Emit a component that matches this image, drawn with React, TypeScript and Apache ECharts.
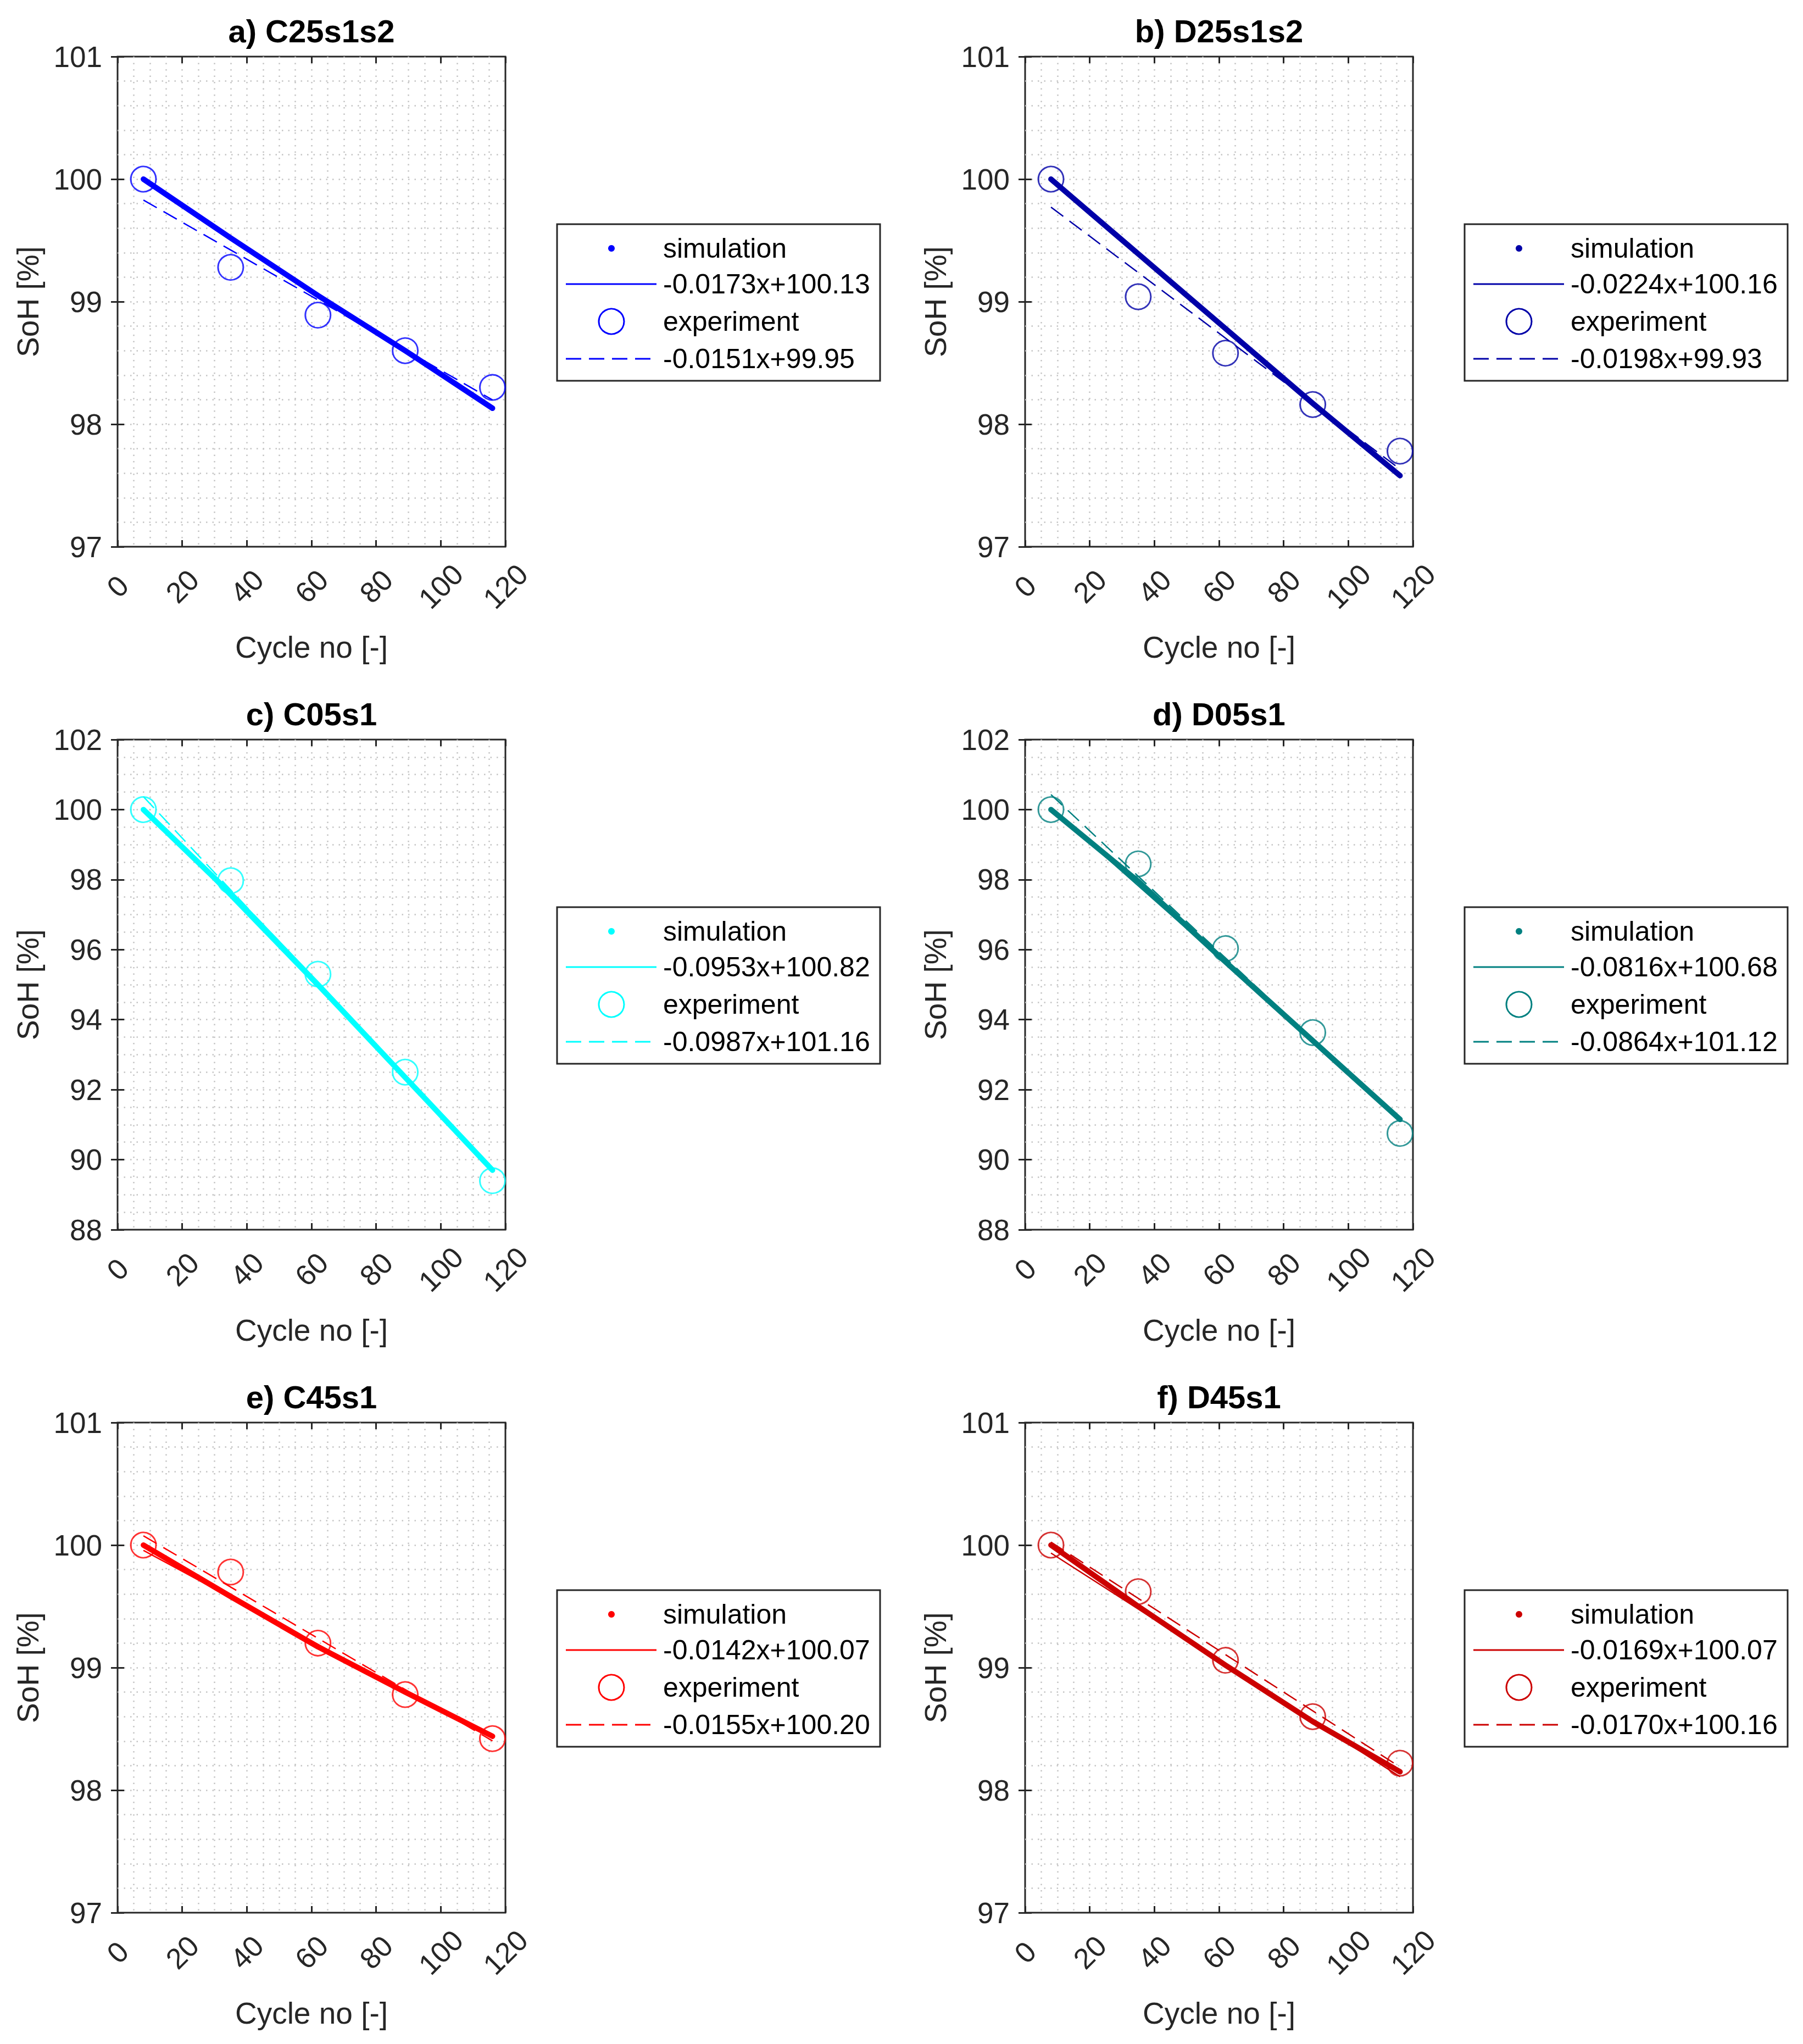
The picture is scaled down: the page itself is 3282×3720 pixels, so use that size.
import { useEffect, useRef } from 'react';
import * as echarts from 'echarts';

// cycle numbers of the checkpoints
const cycles = [8, 35, 62, 89, 116];

const panelTitles = ['a) C25s1s2', 'b) D25s1s2', 'c) C05s1', 'd) D05s1', 'e) C45s1', 'f) D45s1'];
const panelColors = ['#0000ff', '#0000a8', '#00ffff', '#008080', '#ff0000', '#cc0000'];

// simulated SoH [%]
const simA = [100, 99.52, 99.05, 98.6, 98.13];
const simB = [100, 99.39, 98.78, 98.17, 97.58];
const simC = [100, 97.6, 95.0, 92.35, 89.7];
const simD = [100, 97.95, 95.65, 93.4, 91.15];
const simE = [100, 99.58, 99.17, 98.8, 98.44];
const simF = [100, 99.5, 99.02, 98.56, 98.15];

// measured SoH [%]
const expA = [100, 99.28, 98.89, 98.6, 98.3];
const expB = [100, 99.04, 98.58, 98.16, 97.78];
const expC = [100, 97.97, 95.3, 92.5, 89.4];
const expD = [100, 98.45, 96.03, 93.63, 90.75];
const expE = [100, 99.78, 99.2, 98.78, 98.42];
const expF = [100, 99.62, 99.06, 98.6, 98.22];

// linear fits (as printed in the legends)
const simFitSlope = [-0.0173, -0.0224, -0.0953, -0.0816, -0.0142, -0.0169];
const simFitIntercept = [100.13, 100.16, 100.82, 100.68, 100.07, 100.07];
const expFitSlope = [-0.0151, -0.0198, -0.0987, -0.0864, -0.0155, -0.017];
const expFitIntercept = [99.95, 99.93, 101.16, 101.12, 100.2, 100.16];

// y axes
const yMin = [97, 97, 88, 88, 97, 97];
const yMax = [101, 101, 102, 102, 101, 101];
const yStep = [1, 1, 2, 2, 1, 1];
const yMinorSplit = [5, 5, 4, 4, 5, 5];

const simSeries = [simA, simB, simC, simD, simE, simF];
const expSeries = [expA, expB, expC, expD, expE, expF];

const FONT = '"Liberation Sans", Arial, Helvetica, sans-serif';
const AXIS_COLOR = '#262626';

const fitLabel = (s: number, b: number) => `${s.toFixed(4)}x+${b.toFixed(2)}`;
const fitLine = (s: number, b: number) => {
    const x0 = cycles[0];
    const x1 = cycles[cycles.length - 1];
    return [
        [x0, s * x0 + b],
        [x1, s * x1 + b],
    ];
};

function buildOption(): echarts.EChartsOption {
    const grids: any[] = [];
    const xAxes: any[] = [];
    const yAxes: any[] = [];
    const series: any[] = [];
    const graphics: any[] = [];

    const plotW = 706;
    const plotH = 892;

    const gridDots = { color: '#c4c4c4', width: 2.5, type: [2.5, 9] };
    const tick = { inside: true, length: 12, lineStyle: { color: AXIS_COLOR, width: 3 } };

    for (let p = 0; p < 6; p++) {
        const col = p % 2;
        const row = Math.floor(p / 2);
        const left = col ? 1866 : 214;
        const top = 103 + row * 1243;
        const color = panelColors[p];

        grids.push({
            left,
            top,
            width: plotW,
            height: plotH,
            show: true,
            backgroundColor: '#ffffff',
            borderColor: AXIS_COLOR,
            borderWidth: 3,
        });

        const xBase = {
            type: 'value',
            gridIndex: p,
            min: 0,
            max: 120,
            interval: 20,
            axisLine: { show: false },
            axisTick: tick,
        };
        xAxes.push({
            ...xBase,
            position: 'bottom',
            axisLabel: {
                rotate: 45,
                align: 'center',
                verticalAlign: 'middle',
                margin: 72,
                fontSize: 53,
                color: AXIS_COLOR,
                fontFamily: FONT,
                showMinLabel: true,
                showMaxLabel: true,
            },
            splitLine: { show: true, showMinLine: false, showMaxLine: false, lineStyle: gridDots },
            minorTick: { show: false, splitNumber: 4 },
            minorSplitLine: { show: true, lineStyle: gridDots },
        });
        xAxes.push({
            ...xBase,
            position: 'top',
            axisLabel: { show: false },
            splitLine: { show: false },
        });

        const yBase = {
            type: 'value',
            gridIndex: p,
            min: yMin[p],
            max: yMax[p],
            interval: yStep[p],
            axisLine: { show: false },
            axisTick: tick,
        };
        yAxes.push({
            ...yBase,
            position: 'left',
            axisLabel: {
                margin: 28,
                fontSize: 53,
                color: AXIS_COLOR,
                fontFamily: FONT,
                showMinLabel: true,
                showMaxLabel: true,
            },
            splitLine: { show: true, showMinLine: false, showMaxLine: false, lineStyle: gridDots },
            minorTick: { show: false, splitNumber: yMinorSplit[p] },
            minorSplitLine: { show: true, lineStyle: gridDots },
        });
        yAxes.push({
            ...yBase,
            position: 'right',
            axisLabel: { show: false },
            splitLine: { show: false },
        });

        const axisIdx = { xAxisIndex: 2 * p, yAxisIndex: 2 * p, silent: true, emphasis: { disabled: true } };

        series.push({
            ...axisIdx,
            type: 'line',
            name: `simulation ${p}`,
            data: simSeries[p].map((v, i) => [cycles[i], v]),
            symbol: 'none',
            lineStyle: { color, width: 10, cap: 'round', join: 'round' },
            z: 2,
        });
        series.push({
            ...axisIdx,
            type: 'line',
            name: fitLabel(simFitSlope[p], simFitIntercept[p]),
            data: fitLine(simFitSlope[p], simFitIntercept[p]),
            symbol: 'none',
            lineStyle: { color, width: 2.5 },
            z: 3,
        });
        series.push({
            ...axisIdx,
            type: 'scatter',
            name: `experiment ${p}`,
            data: expSeries[p].map((v, i) => [cycles[i], v]),
            symbol: 'circle',
            symbolSize: 46,
            itemStyle: { color: 'rgba(0,0,0,0)', borderColor: color, borderWidth: 3 },
            z: 4,
        });
        series.push({
            ...axisIdx,
            type: 'line',
            name: fitLabel(expFitSlope[p], expFitIntercept[p]),
            data: fitLine(expFitSlope[p], expFitIntercept[p]),
            symbol: 'none',
            lineStyle: { color, width: 2.5, type: [28, 14] },
            z: 5,
        });

        // title and axis names
        const cx = left + plotW / 2;
        graphics.push({
            type: 'text',
            x: cx,
            y: top - 47,
            style: {
                text: panelTitles[p],
                font: `bold 58px ${FONT}`,
                fill: '#000000',
                align: 'center',
                verticalAlign: 'middle',
                textAlign: 'center',
                textVerticalAlign: 'middle',
            },
        });
        graphics.push({
            type: 'text',
            x: cx,
            y: top + plotH + 183,
            style: {
                text: 'Cycle no [-]',
                font: `55px ${FONT}`,
                fill: AXIS_COLOR,
                align: 'center',
                verticalAlign: 'middle',
                textAlign: 'center',
                textVerticalAlign: 'middle',
            },
        });
        graphics.push({
            type: 'text',
            x: left - 163,
            y: top + plotH / 2,
            rotation: Math.PI / 2,
            style: {
                text: 'SoH [%]',
                font: `55px ${FONT}`,
                fill: AXIS_COLOR,
                align: 'center',
                verticalAlign: 'middle',
                textAlign: 'center',
                textVerticalAlign: 'middle',
            },
        });

        // legend box
        const lx = left + 800;
        const ly = top + 305;
        const rowsY = [44, 109, 177, 245].map((d) => ly + d);
        const symX = lx + 99;
        const textX = lx + 193;
        const legendText = (t: string, y: number) => ({
            type: 'text',
            x: textX,
            y,
            style: {
                text: t,
                font: `50px ${FONT}`,
                fill: '#000000',
                align: 'left',
                verticalAlign: 'middle',
                textAlign: 'left',
                textVerticalAlign: 'middle',
            },
        });
        graphics.push({
            type: 'rect',
            shape: { x: lx, y: ly, width: 588, height: 285 },
            style: { fill: '#ffffff', stroke: AXIS_COLOR, lineWidth: 3 },
        });
        graphics.push({
            type: 'circle',
            shape: { cx: symX, cy: rowsY[0], r: 6 },
            style: { fill: color },
        });
        graphics.push(legendText('simulation', rowsY[0]));
        graphics.push({
            type: 'line',
            shape: { x1: lx + 16, y1: rowsY[1], x2: lx + 181, y2: rowsY[1] },
            style: { stroke: color, lineWidth: 3 },
        });
        graphics.push(legendText(fitLabel(simFitSlope[p], simFitIntercept[p]), rowsY[1]));
        graphics.push({
            type: 'circle',
            shape: { cx: symX, cy: rowsY[2], r: 23 },
            style: { fill: 'none', stroke: color, lineWidth: 3 },
        });
        graphics.push(legendText('experiment', rowsY[2]));
        graphics.push({
            type: 'line',
            shape: { x1: lx + 16, y1: rowsY[3], x2: lx + 181, y2: rowsY[3] },
            style: { stroke: color, lineWidth: 3, lineDash: [28, 14] },
        });
        graphics.push(legendText(fitLabel(expFitSlope[p], expFitIntercept[p]), rowsY[3]));
    }

    return {
        animation: false,
        backgroundColor: '#ffffff',
        grid: grids,
        xAxis: xAxes,
        yAxis: yAxes,
        series,
        graphic: { elements: graphics },
    };
}

export default function App() {
    const chartRef = useRef<HTMLDivElement>(null);

    useEffect(() => {
        if (!chartRef.current) return;
        const chart = echarts.init(chartRef.current, undefined, { renderer: 'svg' });
        chart.setOption(buildOption());
        return () => {
            chart.dispose();
        };
    }, []);

    return (
        <div
            ref={chartRef}
            style={{ position: 'absolute', left: 0, top: 0, width: 3282, height: 3720, background: '#ffffff' }}
        />
    );
}
